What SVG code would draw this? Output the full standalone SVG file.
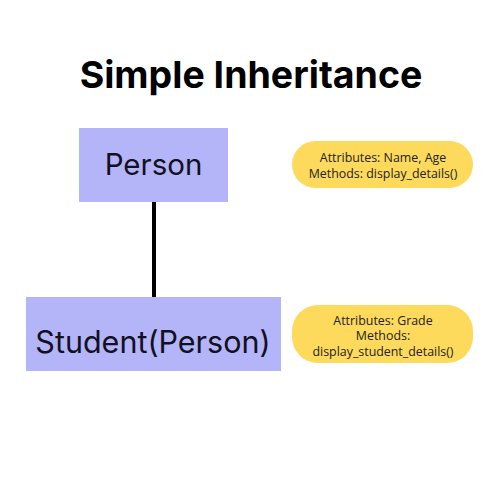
<svg xmlns="http://www.w3.org/2000/svg" width="500" height="500" viewBox="0 0 500 500">
<style>
.cls{fill:#B4B4F9}
.note{fill:#FDDA5C}
.lbl{font-family:Inter,"Liberation Sans",sans-serif;fill:#111122;text-anchor:middle}
.nt{font-family:"Open Sans","Liberation Sans",sans-serif;font-size:12.4px;fill:#222;text-anchor:middle}
</style>
<rect width="500" height="500" fill="#fff"/>
<text x="251" y="88" font-family="Inter,'Liberation Sans',sans-serif" font-weight="bold" font-size="37.5" text-anchor="middle" fill="#000">Simple Inheritance</text>
<g id="connectors">
<line x1="154" y1="202" x2="154" y2="297" stroke="#000" stroke-width="4"/>
</g>
<g id="person">
<rect class="cls" x="79" y="128" width="149" height="74"/>
<text class="lbl" x="153.5" y="175" font-size="29.5">Person</text>
</g>
<g id="student">
<rect class="cls" x="26" y="297" width="255" height="74"/>
<text class="lbl" x="153" y="353" font-size="30.5">Student(Person)</text>
</g>
<g id="note-person">
<rect class="note" x="292" y="141" width="181" height="47" rx="23.5"/>
<text class="nt" x="383" y="161.5">Attributes: Name, Age</text>
<text class="nt" x="383" y="177.5">Methods: display_details()</text>
</g>
<g id="note-student">
<rect class="note" x="292" y="305" width="181" height="58" rx="26"/>
<text class="nt" x="383" y="324.5">Attributes: Grade</text>
<text class="nt" x="383" y="340">Methods:</text>
<text class="nt" x="383" y="355.5">display_student_details()</text>
</g>
</svg>
